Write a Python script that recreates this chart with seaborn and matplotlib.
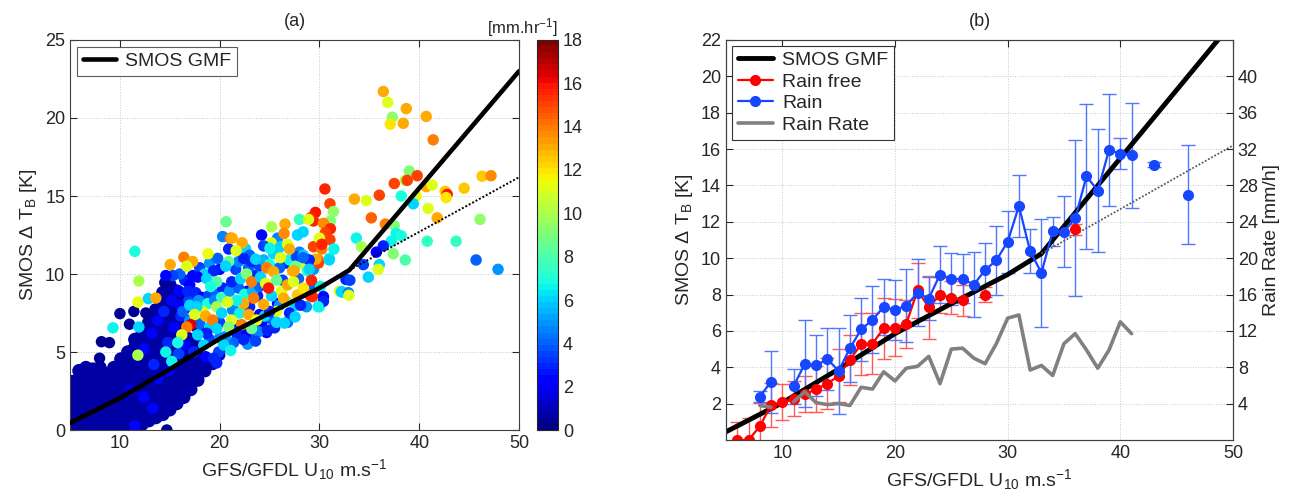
import numpy as np
import pandas as pd
import matplotlib
matplotlib.use('Agg')
import matplotlib.pyplot as plt
import seaborn as sns
from matplotlib.colors import Normalize

sns.set_style('white')
plt.rcParams['font.family'] = ['Liberation Sans', 'DejaVu Sans']
plt.rcParams['mathtext.fontset'] = 'custom'
plt.rcParams['mathtext.rm'] = 'Liberation Sans'
plt.rcParams['mathtext.it'] = 'Liberation Sans:italic'

# ---- SMOS GMF (piecewise) and its low-wind extrapolation ----
gmf_u = [5, 10, 15, 20, 25, 30, 33, 50]
gmf_tb = [0.45, 2.05, 3.9, 5.85, 7.5, 9.1, 10.25, 23.0]
ext_u = [33, 50]
ext_tb = [10.25, 16.2]

# ---- panel (a): dense no-rain cloud, read column by column ----
cloud_u = [5.2, 5.9, 6.6, 7.3, 8.0, 8.7, 9.4, 10.1, 10.8, 11.5,
           12.2, 12.9, 13.6, 14.3, 15.0, 15.7, 16.4, 17.1, 17.8, 18.5]
cloud_tb = [
    [0.0, 0.4, 0.9, 1.3, 1.8, 2.2, 2.7, 3.1],
    [0.0, 0.45, 0.9, 1.4, 1.85, 2.3, 2.8, 3.3, 3.8],
    [0.0, 0.5, 0.95, 1.4, 1.9, 2.35, 2.8, 3.25, 3.7, 4.0],
    [0.0, 0.45, 0.9, 1.35, 1.8, 2.3, 2.75, 3.2, 3.6, 3.9],
    [0.0, 0.5, 0.95, 1.4, 1.85, 2.3, 2.8, 3.25, 3.7, 4.0],
    [0.0, 0.4, 0.9, 1.35, 1.8, 2.25, 2.7, 3.2, 3.6],
    [0.0, 0.45, 0.95, 1.4, 1.85, 2.3, 2.8, 3.25, 3.7, 4.0],
    [0.0, 0.5, 0.9, 1.4, 1.85, 2.3, 2.75, 3.2, 3.65, 4.1, 4.55],
    [0.0, 0.45, 0.9, 1.35, 1.8, 2.3, 2.75, 3.2, 3.65, 4.1, 4.6, 5.0],
    [0.15, 0.6, 1.05, 1.5, 1.95, 2.4, 2.9, 3.35, 3.8, 4.3, 4.8, 5.3, 5.8],
    [0.35, 0.8, 1.25, 1.7, 2.2, 2.65, 3.1, 3.55, 4.0, 4.5, 5.0, 5.6, 6.1],
    [0.6, 1.05, 1.5, 1.95, 2.4, 2.9, 3.35, 3.8, 4.3, 4.8, 5.3, 5.8, 6.4, 6.9],
    [0.8, 1.25, 1.7, 2.2, 2.65, 3.1, 3.6, 4.05, 4.5, 5.0, 5.5, 6.0, 6.6, 7.2, 7.7],
    [1.0, 1.5, 1.95, 2.4, 2.9, 3.35, 3.8, 4.3, 4.8, 5.3, 5.8, 6.3, 6.9, 7.5, 8.2, 8.8],
    [1.3, 1.8, 2.25, 2.7, 3.2, 3.7, 4.2, 4.7, 5.2, 5.7, 6.2, 6.8, 7.4, 8.0, 8.7, 9.3],
    [1.7, 2.15, 2.6, 3.1, 3.6, 4.1, 4.6, 5.1, 5.7, 6.3, 6.9, 7.5, 8.1, 8.9],
    [2.1, 2.6, 3.05, 3.5, 4.0, 4.5, 5.0, 5.6, 6.2, 7.0, 7.8, 8.5],
    [2.6, 3.1, 3.6, 4.1, 4.6, 5.2, 5.8, 7.0, 8.2],
    [3.2, 3.7, 4.2, 4.8, 5.4, 6.6],
    [3.8, 4.3],
]
cloud_rr = 0.6

# ---- panel (a): individual points (wind, dTb, rain rate) ----
pts_u = [
    7.96, 8.15, 8.95, 10.0, 10.96, 11.4, 12.6, 14.5, 14.7, 11.5, 19.3, 20.0, 20.8, 21.8,
    12.4, 13.3, 11.0, 13.8, 14.9,
    13.2, 13.8, 14.4, 15.2, 15.9, 16.5, 17.0, 16.1, 15.4, 14.8, 16.9, 17.6, 18.2, 18.9,
    18.1, 19.6, 20.3, 20.0, 21.6, 22.8, 21.5, 23.8, 25.8, 26.3, 27.9, 24.0, 13.4, 12.4,
    15.9, 16.6, 17.4, 18.6, 19.9, 21.4, 22.9, 25.2, 23.4, 22.9, 24.0, 26.7, 28.0, 25.8,
    24.2, 22.6, 23.4, 24.2, 24.7, 25.5,
    16.0, 16.8, 17.3, 18.0, 18.5, 19.0, 19.8, 20.9, 21.9, 22.6, 23.0, 24.4, 25.0, 26.0,
    27.0, 27.7, 28.5, 29.4, 16.3, 17.0, 17.9, 18.8, 19.5, 20.2, 21.0, 21.9, 22.5, 23.3,
    24.0, 25.2, 26.0, 26.8, 27.6, 28.7, 29.3, 17.0, 18.0, 19.0, 20.0, 20.6, 21.3, 22.0,
    23.0, 24.5, 25.7, 19.0, 20.0, 21.8, 22.8, 23.9, 26.8, 16.0, 15.3, 14.6,
    11.5, 11.9, 11.8, 12.85, 13.6, 9.3, 11.9, 11.8,
    25.4, 26.1, 28.4, 29.4, 29.9, 31.0, 28.8, 27.3, 24.7, 25.4, 23.2, 22.4, 23.6, 20.9,
    20.6, 19.4, 17.8, 18.7, 19.7, 19.1, 21.2, 22.1, 22.7, 23.2, 24.1, 24.6, 25.7, 24.9,
    26.2, 26.8, 27.4, 26.4, 27.8, 28.4, 29.1, 30.1, 30.4, 30.0, 28.1, 27.0, 26.5, 25.0,
    24.4, 23.4, 22.4, 21.7, 20.8, 19.7, 18.3, 17.7, 17.5, 18.6, 19.3, 20.2, 21.2, 22.2,
    22.9, 23.7, 23.2, 21.6, 20.9, 19.7, 18.7, 17.1, 16.7, 16.2, 15.8, 17.8, 18.4, 20.4,
    21.1, 22.4, 23.6, 24.8, 25.7, 14.6, 15.2, 19.4, 19.7,
    30.55, 31.05, 31.4, 29.6, 29.1, 29.4, 31.1, 30.4, 31.1, 30.6, 31.05, 30.0, 26.55,
    28.0, 28.9, 25.2, 26.45, 27.8, 28.36, 20.64, 20.3, 21.08, 21.25, 22.25, 25.17, 24.4,
    25.04, 26.1, 26.8, 27.0, 21.65, 18.83, 16.41, 17.29, 16.7, 15.04, 30.24, 30.24, 29.9,
    29.64, 31.45, 30.98, 28.97, 28.36, 27.56, 27.46, 29.2, 28.97, 31.99, 32.66, 32.26,
    30.4, 30.4, 29.3, 29.87, 27.56,
    36.4, 36.85, 38.7, 37.3, 37.1, 38.4, 40.7, 41.4, 39.0, 38.6, 38.8, 39.8, 37.5, 36.0,
    33.5, 34.7, 38.2, 40.7, 41.3, 42.6, 42.8, 42.7, 44.5, 46.3, 47.2, 39.7, 39.4, 40.9,
    35.2, 36.6, 37.5, 41.8, 46.1, 33.7, 37.7, 38.2, 37.2, 40.8, 43.7, 34.2, 36.4, 35.7,
    37.4, 38.6, 45.7, 47.9, 34.4, 36.0, 35.9, 34.9, 33.05, 32.2, 32.9, 32.95,
]
pts_tb = [
    4.6, 5.66, 5.6, 7.46, 6.78, 7.6, 7.5, 9.45, 0.0, 0.28, 4.2, 4.8, 5.3, 5.9,
    2.1, 1.4, 2.6, 3.3, 3.8,
    6.2, 7.0, 7.6, 8.3, 8.9, 9.6, 9.3, 7.3, 6.6, 5.6, 8.3, 8.8, 8.5, 8.6,
    9.9, 8.7, 9.1, 10.3, 10.3, 8.9, 7.6, 8.6, 8.1, 9.6, 9.7, 7.4, 4.2, 5.2,
    4.9, 5.4, 5.0, 4.7, 5.0, 5.6, 6.1, 7.1, 9.9, 10.4, 10.5, 10.7, 11.4, 12.3,
    12.5, 6.2, 6.6, 6.9, 6.25, 6.55,
    8.0, 8.9, 9.9, 10.4, 10.0, 10.7, 11.0, 11.6, 10.8, 11.6, 11.2, 10.9, 10.6, 10.4,
    10.9, 11.1, 10.6, 10.3, 7.6, 8.0, 8.3, 8.1, 8.3, 8.5, 8.9, 9.1, 8.7, 8.9,
    9.2, 8.6, 8.0, 8.2, 8.0, 7.9, 9.3, 7.0, 6.8, 6.6, 6.9, 6.0, 7.7, 7.5,
    7.9, 7.3, 7.6, 5.8, 5.9, 6.7, 5.5, 6.3, 6.9, 10.0, 9.9, 9.9,
    11.45, 9.55, 8.2, 8.42, 8.46, 6.55, 6.6, 4.8,
    11.3, 11.05, 11.2, 11.75, 10.9, 11.0, 10.2, 10.2, 10.4, 10.15, 10.8, 11.0, 10.95, 10.8,
    10.5, 10.2, 9.8, 9.7, 9.5, 9.2, 9.5, 9.7, 10.0, 9.5, 9.8, 9.4, 9.6, 9.1,
    8.9, 9.3, 9.5, 8.45, 8.65, 9.1, 8.6, 9.2, 8.45, 7.9, 8.0, 7.5, 6.85, 7.6,
    8.05, 8.45, 8.1, 8.3, 8.2, 7.9, 7.6, 7.9, 7.4, 7.3, 7.05, 7.5, 7.05, 6.75,
    7.4, 7.05, 6.5, 6.3, 6.6, 6.5, 6.2, 6.75, 6.6, 6.1, 5.6, 6.1, 5.45, 5.45,
    5.1, 5.8, 5.7, 6.4, 6.9, 5.0, 4.4, 4.6, 4.3,
    15.45, 14.5, 14.0, 13.95, 13.6, 13.4, 13.4, 13.25, 12.9, 12.65, 12.2, 12.3, 13.2,
    13.5, 13.5, 13.03, 12.6, 12.5, 12.7, 13.35, 12.4, 12.3, 12.3, 12.0, 12.0, 11.8,
    11.65, 11.75, 11.9, 11.6, 11.5, 11.3, 11.07, 10.8, 10.5, 10.6, 11.6, 11.9, 10.7,
    10.95, 11.6, 10.9, 10.9, 11.05, 10.5, 10.2, 9.6, 10.3, 8.9, 9.65, 8.85,
    8.55, 8.25, 8.55, 7.9, 7.25,
    21.7, 21.0, 20.6, 20.05, 19.6, 19.66, 20.1, 18.6, 16.6, 16.0, 16.0, 16.3, 15.8, 15.05,
    14.8, 14.7, 15.0, 15.6, 15.7, 15.3, 15.1, 14.9, 15.5, 16.27, 16.3, 15.0, 14.5, 14.2,
    13.6, 13.2, 13.1, 13.6, 13.5, 12.3, 12.6, 12.45, 12.1, 12.1, 12.1, 11.75, 11.8, 11.4,
    11.3, 10.9, 10.9, 10.3, 10.6, 10.6, 10.3, 9.8, 9.6, 8.86, 8.8, 8.63,
]
pts_rr = [
    0.5, 0.5, 0.5, 0.5, 0.5, 0.5, 0.5, 0.5, 0.5, 2.5, 0.8, 1.5, 1.5, 1.0,
    2.0, 2.5, 1.5, 2.5, 2.0,
    2.0, 2.5, 3.0, 2.5, 2.0, 3.0, 2.0, 3.0, 2.0, 3.0, 3.5, 3.0, 2.0, 3.5,
    3.0, 4.0, 3.0, 2.5, 3.5, 2.5, 3.0, 3.0, 2.5, 3.5, 4.0, 2.0, 3.0, 2.0,
    3.5, 2.5, 3.0, 2.5, 3.5, 4.0, 3.5, 4.0, 3.0, 4.0, 3.5, 3.0, 4.5, 4.5,
    2.5, 2.0, 1.5, 2.0, 2.5, 3.0,
    2.0, 3.0, 2.5, 3.5, 6.0, 5.0, 4.0, 3.0, 4.5, 6.0, 4.0, 5.5, 7.0, 4.0,
    6.5, 3.5, 11.0, 5.0, 4.0, 6.0, 5.0, 7.0, 4.5, 7.5, 5.0, 4.0, 7.0, 5.5,
    4.0, 6.0, 5.0, 9.0, 6.0, 5.0, 4.0, 5.0, 4.0, 6.0, 3.5, 5.0, 4.5, 6.5,
    3.0, 6.0, 11.0, 3.5, 4.5, 2.5, 5.0, 4.5, 4.0, 4.0, 3.5, 2.5,
    7.0, 10.0, 11.5, 6.0, 13.0, 6.5, 6.0, 10.0,
    6.0, 11.0, 6.0, 15.0, 14.0, 6.5, 7.5, 13.0, 14.0, 13.0, 3.0, 3.0, 6.0, 8.5,
    6.0, 3.0, 2.5, 6.0, 8.0, 7.0, 3.0, 6.0, 9.0, 14.0, 6.0, 11.0, 8.5, 16.0,
    11.0, 13.0, 11.0, 13.0, 12.5, 12.0, 15.5, 6.5, 6.0, 7.0, 3.0, 3.0, 6.0, 3.0,
    13.0, 14.0, 13.0, 6.5, 11.0, 10.0, 11.0, 6.0, 11.0, 13.0, 14.0, 6.0, 11.0, 14.0,
    13.0, 11.5, 8.5, 3.0, 9.0, 6.0, 3.0, 16.5, 14.0, 11.0, 7.0, 6.0, 6.0, 6.0,
    6.5, 3.0, 3.5, 3.0, 6.0, 6.5, 6.5, 3.0, 3.0,
    15.5, 15.0, 9.5, 16.0, 15.5, 15.5, 9.0, 13.5, 15.5, 15.0, 15.0, 11.0, 13.0,
    7.5, 11.0, 10.0, 13.5, 6.0, 6.0, 8.5, 4.5, 14.0, 13.0, 13.0, 11.0, 3.5,
    6.5, 6.0, 11.0, 13.0, 11.0, 11.5, 14.0, 13.0, 11.0, 13.0, 14.0, 15.5, 15.0,
    13.0, 6.5, 6.0, 3.0, 4.0, 8.5, 13.0, 15.5, 6.0, 11.0, 3.0, 6.0,
    2.5, 3.0, 15.5, 6.5, 6.0,
    13.0, 11.0, 13.0, 9.5, 12.0, 13.0, 13.0, 14.0, 9.0, 10.0, 15.0, 15.0, 15.0, 15.0,
    13.0, 11.0, 7.0, 13.0, 11.0, 12.5, 16.0, 12.0, 12.5, 12.5, 13.5, 11.0, 6.0, 11.0,
    14.5, 14.0, 9.0, 13.0, 9.5, 6.5, 6.5, 7.0, 6.5, 7.5, 7.5, 10.0, 3.0, 2.0,
    9.0, 8.0, 4.0, 5.0, 3.5, 6.0, 11.0, 6.0, 3.5, 6.0, 4.5, 11.0,
]

# ---- panel (b): bin-averaged dTb (1 m/s bins) ----
u_bins = [6, 7, 8, 9, 10, 11, 12, 13, 14, 15, 16, 17, 18, 19, 20, 21, 22, 23, 24, 25, 26,
          27, 28, 29, 30, 31, 32, 33, 34, 35, 36, 37, 38, 39, 40, 41, 42, 43, 44, 45, 46]
nan = np.nan
rain_free_tb = [0.0, 0.0, 0.75, 1.92, 2.08, 2.27, 2.52, 2.8, 3.1, 3.53, 4.4, 5.28, 5.3,
                6.14, 6.18, 6.38, 8.23, 7.3, 7.98, 7.83, 7.69, nan, 8.0, nan, nan, nan, nan,
                nan, nan, nan, 11.58, nan, nan, nan, nan, nan, nan, nan, nan, nan, nan]
rain_free_err = [1.0, 1.2, 1.3, 1.2, 1.0, 0.95, 1.0, 1.25, 1.4, 1.45, 1.4, 1.7, 1.68, 1.68,
                 1.57, 1.3, 1.5, 1.72, 1.0, 0.9, 0.85, nan, 0.4, nan, nan, nan, nan, nan,
                 nan, nan, 0.3, nan, nan, nan, nan, nan, nan, nan, nan, nan, nan]
rain_tb = [nan, nan, 2.38, 3.21, nan, 2.96, 4.19, 4.1, 4.45, 3.8, 5.05, 6.08, 6.61, 7.32,
           7.16, 7.38, 8.1, 7.78, 9.1, 8.85, 8.86, 8.55, 9.34, 9.89, 10.9, 12.86, 10.38,
           9.19, 11.48, 11.45, 12.2, 14.5, 13.72, 15.95, 15.75, 15.66, nan, 15.15, nan,
           nan, 13.5]
rain_err = [nan, nan, 0.3, 1.7, nan, 0.97, 2.4, 1.7, 1.7, 2.35, 1.85, 1.75, 1.85, 1.55,
            1.65, 2.0, 1.85, 1.2, 1.55, 1.45, 1.35, 1.8, 1.5, 1.9, 1.7, 1.7, 1.2, 2.95,
            0.8, 1.95, 4.3, 4.0, 3.4, 3.1, 0.85, 2.88, nan, 0.15, nan, nan, 2.7]
rain_rate = [nan, nan, 3.8, 3.6, nan, 4.2, 5.3, 4.1, 3.9, 4.0, 3.8, 5.8, 5.6, 7.5, 6.5,
             7.9, 8.1, 9.2, 6.2, 10.0, 10.1, 9.0, 8.4, 10.6, 13.4, 13.75, 7.7, 8.2, 7.1,
             10.6, 11.7, 9.9, 7.9, 9.9, 13.0, 11.7, nan, nan, nan, nan, nan]

# ---- assemble panel (a) tables ----
cloud_rows = []
for cu, col in zip(cloud_u, cloud_tb):
    for t in col:
        cloud_rows.append((cu, t, cloud_rr))
df_cloud = pd.DataFrame(cloud_rows, columns=['u', 'tb', 'rr'])
df_pts = pd.DataFrame({'u': pts_u, 'tb': pts_tb, 'rr': pts_rr})

jet64 = plt.get_cmap('jet', 64)
FS = 13
grid_kw = dict(ls=':', color='0.78', lw=0.7)

fig = plt.figure(figsize=(12.92, 4.95), dpi=100)
ax_a = fig.add_axes([0.0542, 0.1313, 0.3475, 0.7879])
cax = fig.add_axes([0.4156, 0.1313, 0.0163, 0.7879])
ax_b = fig.add_axes([0.5619, 0.1111, 0.3924, 0.8081])

# panel (a)
sns.scatterplot(data=df_cloud, x='u', y='tb', hue='rr', palette=jet64, hue_norm=(0, 18),
                s=95, linewidth=0, legend=False, ax=ax_a, zorder=2)
sns.scatterplot(data=df_pts, x='u', y='tb', hue='rr', palette=jet64, hue_norm=(0, 18),
                s=68, linewidth=0, legend=False, ax=ax_a, zorder=2)
ax_a.plot(gmf_u, gmf_tb, color='k', lw=3.3, label='SMOS GMF', zorder=4)
ax_a.plot(ext_u, ext_tb, color='k', ls=(0, (1, 1)), lw=1.4, zorder=4)
ax_a.set_xlim(5, 50)
ax_a.set_ylim(0, 25)
ax_a.set_xticks([10, 20, 30, 40, 50])
ax_a.set_yticks([0, 5, 10, 15, 20, 25])
ax_a.grid(True, **grid_kw)
ax_a.set_axisbelow(True)
ax_a.tick_params(direction='in', length=5, labelsize=FS, top=True, right=True,
                 bottom=True, left=True)
ax_a.set_xlabel('GFS/GFDL U$_{10}$ m.s$^{-1}$', fontsize=FS + 1)
ax_a.set_ylabel('SMOS Δ T$_{\\mathrm{B}}$ [K]', fontsize=FS + 1)
ax_a.set_title('(a)', fontsize=FS, pad=10)
leg_a = ax_a.legend(loc='upper left', fontsize=FS + 1, frameon=True, fancybox=False,
                    edgecolor='0.2', handlelength=1.7, borderpad=0.3, handletextpad=0.5,
                    bbox_to_anchor=(0.0, 1.0), borderaxespad=0.35)
leg_a.get_frame().set_linewidth(0.8)

sm = plt.cm.ScalarMappable(norm=Normalize(0, 18), cmap=jet64)
cb = fig.colorbar(sm, cax=cax, ticks=[0, 2, 4, 6, 8, 10, 12, 14, 16, 18])
cb.ax.tick_params(direction='in', length=4, left=True, right=True, labelsize=FS)
cb.outline.set_linewidth(0.8)
cax.set_title('[mm.hr$^{-1}$]', fontsize=FS - 1, loc='right', pad=5)

# panel (b)
ax_b.plot(gmf_u, gmf_tb, color='k', lw=3.5, label='SMOS GMF', zorder=3)
ax_b.plot(ext_u, ext_tb, color='0.35', ls=(0, (1, 1)), lw=1.3, zorder=3)
ax_b.errorbar(u_bins, rain_free_tb, yerr=rain_free_err, fmt='none', ecolor='#ff5a5a',
              elinewidth=1.0, capsize=5, capthick=1.0, zorder=2)
ax_b.errorbar(u_bins, rain_tb, yerr=rain_err, fmt='none', ecolor='#4f78ff',
              elinewidth=1.0, capsize=5, capthick=1.0, zorder=2)
l_rf, = ax_b.plot(u_bins, rain_free_tb, '-o', color='red', lw=1.6, ms=7, zorder=4,
                  label='Rain free')
l_r, = ax_b.plot(u_bins, rain_tb, '-o', color='#1646ff', lw=1.6, ms=7, zorder=5,
                 label='Rain')
ax_b.set_xlim(5, 50)
ax_b.set_ylim(0, 22)
ax_b.set_xticks([10, 20, 30, 40, 50])
ax_b.set_yticks([2, 4, 6, 8, 10, 12, 14, 16, 18, 20, 22])
ax_b.grid(True, **grid_kw)
ax_b.set_axisbelow(True)
ax_b.tick_params(direction='in', length=5, labelsize=FS, top=True, right=False)
ax_b.set_xlabel('GFS/GFDL U$_{10}$ m.s$^{-1}$', fontsize=FS + 1)
ax_b.set_ylabel('SMOS Δ T$_{\\mathrm{B}}$ [K]', fontsize=FS + 1)
ax_b.set_title('(b)', fontsize=FS, pad=10)

ax_b2 = ax_b.twinx()
l_rr, = ax_b2.plot(u_bins, rain_rate, color='0.5', lw=2.6, label='Rain Rate')
ax_b2.set_ylim(0, 44)
ax_b2.set_yticks([4, 8, 12, 16, 20, 24, 28, 32, 36, 40])
ax_b2.tick_params(direction='in', length=5, labelsize=FS)
ax_b2.set_ylabel('Rain Rate [mm/h]', fontsize=FS + 1)
for ax in (ax_a, ax_b, ax_b2):
    for sp in ax.spines.values():
        sp.set_color('0.25')
        sp.set_linewidth(0.8)

handles = [ax_b.get_lines()[0], l_rf, l_r, l_rr]
leg_b = ax_b2.legend(handles, [h.get_label() for h in handles], loc='upper left',
                     fontsize=FS + 1, frameon=True, fancybox=False, edgecolor='0.2',
                     handlelength=1.8, borderpad=0.3, labelspacing=0.2, handletextpad=0.5,
                     bbox_to_anchor=(0.0, 1.0), borderaxespad=0.3, framealpha=1)
leg_b.get_frame().set_linewidth(0.8)

fig.savefig('out.png', dpi=100)
